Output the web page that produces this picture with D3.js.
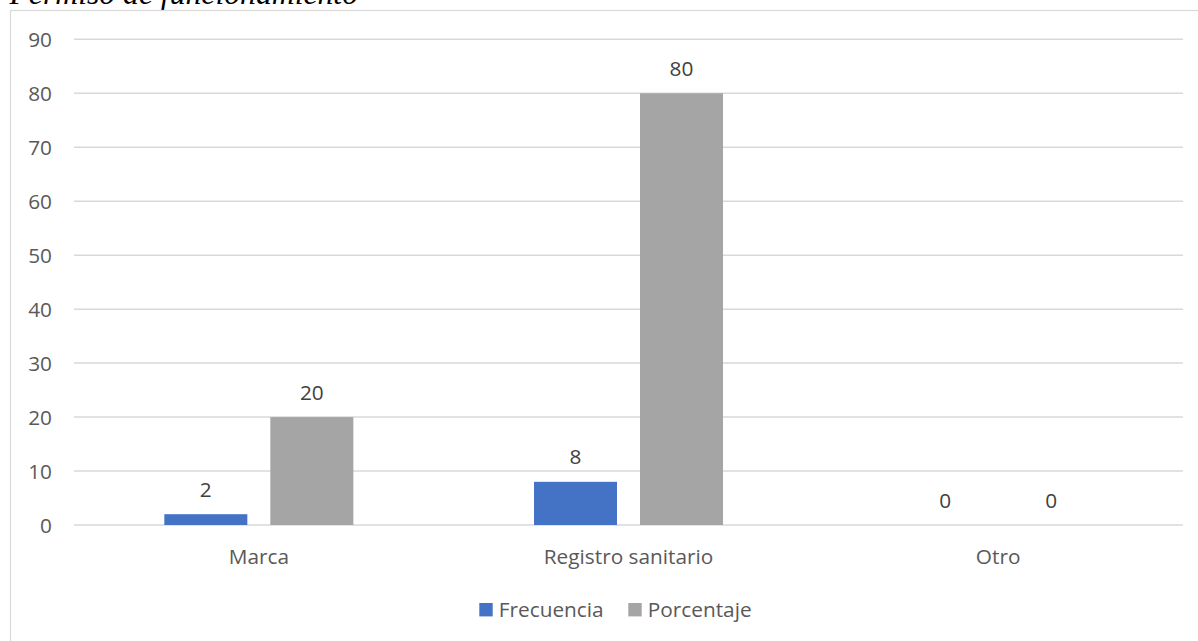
<!DOCTYPE html>
<html>
<head>
<meta charset="utf-8">
<script src="https://cdn.jsdelivr.net/npm/d3@7/dist/d3.min.js"></script>
<style>
  html, body { margin: 0; padding: 0; background: #ffffff; }
  svg { display: block; }
</style>
</head>
<body>
<svg id="chart" width="1198" height="641"></svg>
<script>
const categories = ["Marca", "Registro sanitario", "Otro"];
const seriesNames = ["Frecuencia", "Porcentaje"];
const frecuencia = [2, 8, 0];
const porcentaje = [20, 80, 0];
const yTicks = [0, 10, 20, 30, 40, 50, 60, 70, 80, 90];
const colors = ["#4472C4", "#A5A5A5"];
const titleText = "Permiso de funcionamiento";

const seriesValues = [frecuencia, porcentaje];
const data = categories.map((c, i) => ({
  cat: c,
  vals: seriesNames.map((s, j) => ({ series: s, value: seriesValues[j][i], idx: j }))
}));

const svg = d3.select("#chart");
const font = "'Open Sans', 'Noto Sans', sans-serif";
const fs = 20.8;

// Title (partially cut off at top, as in the source document)
svg.append("text")
  .attr("x", 9.5)
  .attr("y", 4)
  .attr("font-family", "'Liberation Serif', 'Times New Roman', serif")
  .attr("font-style", "italic")
  .attr("font-size", 31.7)
  .attr("fill", "#000")
  .text(titleText);

// Chart border
svg.append("rect")
  .attr("x", 10.5).attr("y", 10.5)
  .attr("width", 1200).attr("height", 700)
  .attr("fill", "#fff")
  .attr("stroke", "#d9d9d9")
  .attr("stroke-width", 1.2);

const x0 = d3.scaleBand().domain(categories).range([74, 1183]).paddingInner(0).paddingOuter(0);
const x1 = d3.scaleBand().domain(seriesNames).range([0, x0.bandwidth()])
  .paddingInner(0.217).paddingOuter(0.852);
const y = d3.scaleLinear().domain([0, 90]).range([525, 39.3]);

// Gridlines
svg.append("g")
  .selectAll("line")
  .data(yTicks)
  .join("line")
  .attr("x1", 74).attr("x2", 1183)
  .attr("y1", d => y(d)).attr("y2", d => y(d))
  .attr("stroke", "#d9d9d9")
  .attr("stroke-width", 1.5);

// Y axis labels
const yAxis = d3.axisLeft(y).tickValues(yTicks).tickSize(0).tickPadding(0);
const gy = svg.append("g").attr("transform", "translate(52,0)").call(yAxis);
gy.select(".domain").remove();
gy.selectAll("text")
  .attr("font-family", font)
  .attr("font-size", fs)
  .attr("fill", "#595959")
  .attr("dy", "0.34em");

// Bars
const groups = svg.append("g")
  .selectAll("g")
  .data(data)
  .join("g")
  .attr("transform", d => `translate(${x0(d.cat)},0)`);

groups.selectAll("rect")
  .data(d => d.vals)
  .join("rect")
  .attr("x", d => x1(d.series))
  .attr("width", x1.bandwidth())
  .attr("y", d => y(d.value))
  .attr("height", d => y(0) - y(d.value))
  .attr("fill", d => colors[d.idx]);

// Data labels
groups.selectAll("text")
  .data(d => d.vals)
  .join("text")
  .attr("x", d => x1(d.series) + x1.bandwidth() / 2)
  .attr("y", d => y(d.value) - 17.5)
  .attr("text-anchor", "middle")
  .attr("font-family", font)
  .attr("font-size", fs)
  .attr("fill", "#404040")
  .text(d => d.value);

// X axis labels
const xAxis = d3.axisBottom(x0).tickSize(0).tickPadding(0);
const gx = svg.append("g").attr("transform", "translate(0,525)").call(xAxis);
gx.select(".domain").remove();
gx.selectAll("text")
  .attr("font-family", font)
  .attr("font-size", fs)
  .attr("fill", "#595959")
  .attr("dy", null)
  .attr("y", 39);

// Legend
const legendItems = [
  { name: seriesNames[0], color: colors[0], x: 479.3 },
  { name: seriesNames[1], color: colors[1], x: 628.3 }
];
const lg = svg.append("g");
legendItems.forEach(it => {
  lg.append("rect")
    .attr("x", it.x).attr("y", 603)
    .attr("width", 13.4).attr("height", 13.4)
    .attr("fill", it.color);
  lg.append("text")
    .attr("x", it.x + 19.5)
    .attr("y", 616.5)
    .attr("font-family", font)
    .attr("font-size", fs)
    .attr("fill", "#595959")
    .text(it.name);
});
</script>
</body>
</html>
